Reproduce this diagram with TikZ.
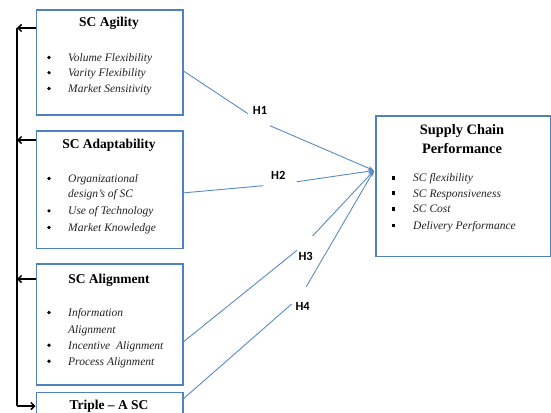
\documentclass[tikz,border=0pt]{standalone}
\usepackage{fontspec}
\setmainfont{Liberation Serif}
\newfontfamily\hypfont{Carlito}
\usetikzlibrary{arrows.meta}
\definecolor{frameblue}{HTML}{4F81BD}
\definecolor{linkblue}{HTML}{5A8AC6}
\definecolor{itemgray}{HTML}{222222}
\begin{document}
\begin{tikzpicture}[x=1pt,y=-1pt,
  box/.style={draw=frameblue,line width=1.6pt,anchor=north west,inner sep=0pt,fill=white},
  ttl/.style={font=\fontsize{13.5}{16}\selectfont\bfseries,anchor=base,inner sep=0pt},
  bigttl/.style={font=\fontsize{14.4}{17}\selectfont\bfseries,anchor=base,inner sep=0pt},
  itm/.style={font=\fontsize{11.5}{14}\selectfont\itshape,text=itemgray,anchor=base west,inner sep=0pt},
  dot/.style={circle,fill=black,minimum size=3.6pt,inner sep=0pt},
  sq/.style={fill=black,minimum size=3.6pt,inner sep=0pt},
  gap/.style={rectangle,inner sep=0pt,draw=none},
  hyp/.style={font=\fontsize{12.5}{14}\selectfont\hypfont\bfseries,inner sep=0pt},
  link/.style={draw=linkblue,line width=0.9pt,-{Stealth[length=6pt,width=4.5pt]}},
  bar/.style={draw=black,line width=1.5pt},
  barb/.style={-{Straight Barb[length=3.5pt,width=7pt]}}]
\useasboundingbox (0,0) rectangle (551,412);
\clip (0,0) rectangle (551,412);

% construct boxes
\node[box,minimum width=146.5pt,minimum height=104.5pt] (agil) at (35.5,9.5) {};
\node[box,minimum width=146.5pt,minimum height=117.5pt] (adapt) at (35.5,130) {};
\node[box,minimum width=146.5pt,minimum height=121pt] (align) at (35.5,263) {};
\node[box,minimum width=146.5pt,minimum height=60pt] (triple) at (35.5,391.5) {};
\node[box,minimum width=174.5pt,minimum height=140.5pt] (perf) at (375,115) {};

% SC Agility
\node[ttl] (agilT) at (109,27) {SC Agility};
\node[dot] (agilb1) at (49,57.5) {};
\node[itm] (agil1) at (68,61.3) {Volume Flexibility};
\node[dot] (agilb2) at (49,72.7) {};
\node[itm] (agil2) at (68,76.5) {Varity Flexibility};
\node[dot] (agilb3) at (49,88.5) {};
\node[itm] (agil3) at (68,92.3) {Market Sensitivity};

% SC Adaptability
\node[ttl] (adaptT) at (109,148.5) {SC Adaptability};
\node[dot] (adaptb1) at (49,178.5) {};
\node[itm] (adapt1) at (68,182.3) {Organizational};
\node[itm] (adapt1b) at (68,197.3) {design’s of SC};
\node[dot] (adaptb2) at (49,210.9) {};
\node[itm] (adapt2) at (68,214.7) {Use of Technology};
\node[dot] (adaptb3) at (49,227.5) {};
\node[itm] (adapt3) at (68,231.3) {Market Knowledge};

% SC Alignment
\node[ttl] (alignT) at (109,283) {SC Alignment};
\node[dot] (alignb1) at (49,312.5) {};
\node[itm] (align1) at (68,316.3) {Information};
\node[itm] (align1b) at (68,333) {Alignment};
\node[dot] (alignb2) at (49,345.2) {};
\node[itm] (align2) at (68,349) {Incentive\ \ Alignment};
\node[dot] (alignb3) at (49,361.2) {};
\node[itm] (align3) at (68,365) {Process Alignment};

% Triple-A
\node[ttl] (tripleT) at (109,409) {Triple – A SC};

% Supply chain performance
\node[bigttl] (perfT1) at (462,134.3) {Supply Chain};
\node[bigttl] (perfT2) at (462,153.3) {Performance};
\node[sq] (perfb1) at (393.3,177.7) {};
\node[itm] (perf1) at (413,181.7) {SC flexibility};
\node[sq] (perfb2) at (393.3,193) {};
\node[itm] (perf2) at (413,197) {SC Responsiveness};
\node[sq] (perfb3) at (393.3,208.8) {};
\node[itm] (perf3) at (413,212.8) {SC Cost};
\node[sq] (perfb4) at (393.3,225.5) {};
\node[itm] (perf4) at (413,229.5) {Delivery Performance};

% hypothesis paths
\coordinate (s1) at (182,70);
\coordinate (s2) at (182,193);
\coordinate (s3) at (182,343);
\coordinate (s4) at (182,400);
\coordinate (t) at (374,170.5);
\node[gap,minimum width=22pt,minimum height=16pt] (g1) at (259,121) {};
\node[gap,minimum width=33pt,minimum height=10pt] (g2) at (280,184.2) {};
\node[gap,minimum width=18pt,minimum height=14pt] (g3) at (305.8,243.2) {};
\node[gap,minimum width=18pt,minimum height=18pt] (g4) at (300.9,295.9) {};
\draw[link] (s1) -- (g1) -- (t);
\draw[link] (s2) -- (g2) -- (t);
\draw[link] (s3) -- (g3) -- (t);
\draw[link] (s4) -- (g4) -- (t);
\node[hyp] (h1) at (260,110.7) {H1};
\node[hyp] (h2) at (278.3,175.7) {H2};
\node[hyp] (h3) at (305.7,256.7) {H3};
\node[hyp] (h4) at (302.7,306.7) {H4};

% dimension bar on the left
\coordinate (k1) at (17,28);
\coordinate (k2) at (17,140);
\coordinate (k3) at (17,279);
\coordinate (k4) at (17,406);
\draw[bar] (k1) -- (k4);
\draw[bar,barb] (k4) -- (triple.west |- k4);
\draw[bar,barb] (agil.west |- k1) -- (k1);
\draw[bar,barb] (adapt.west |- k2) -- (k2);
\draw[bar,barb] (align.west |- k3) -- (k3);
\end{tikzpicture}
\end{document}
